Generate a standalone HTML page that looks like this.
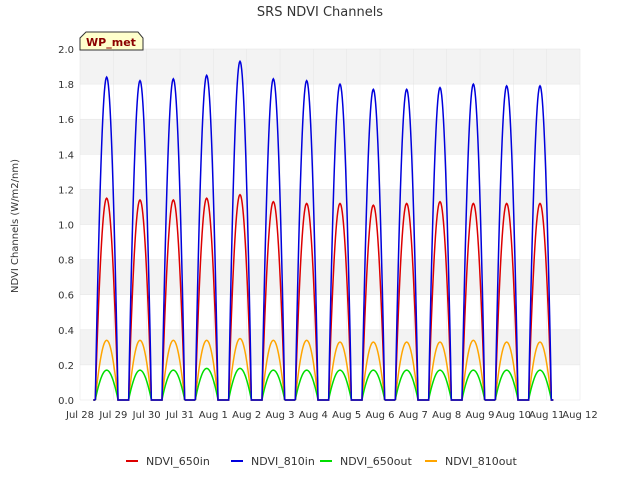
<!DOCTYPE html>
<html><head><meta charset="utf-8"><style>
body{margin:0;background:#fff;font-family:"Liberation Sans",sans-serif}
svg text{font-family:"DejaVu Sans","Liberation Sans",sans-serif}
</style></head><body>
<svg id="chart" width="640" height="480" xmlns="http://www.w3.org/2000/svg">
<rect width="640" height="480" fill="#fff"/>
<text x="320" y="16" text-anchor="middle" font-size="13" fill="#333">SRS NDVI Channels</text>
<g id="bands"></g>
<g id="grid"></g>
<g id="series"></g>
<g id="axes"></g>
<text transform="translate(18,226) rotate(-90)" text-anchor="middle" font-size="10" fill="#333">NDVI Channels (W/m2/nm)</text>
<g>
<path d="M80,50 L80,38 L86,32 L138,32 L143,38 L143,50 Z" fill="#ffffcc" stroke="#333"/>
<text x="111" y="46" text-anchor="middle" font-size="11" font-weight="bold" fill="#8b0000">WP_met</text>
</g>
<g id="legend"></g>
</svg>
<script>
const xTicks=["Jul 28","Jul 29","Jul 30","Jul 31","Aug 1","Aug 2","Aug 3","Aug 4","Aug 5","Aug 6","Aug 7","Aug 8","Aug 9","Aug 10","Aug 11","Aug 12"];
const yTicks=[0,0.2,0.4,0.6,0.8,1.0,1.2,1.4,1.6,1.8,2.0];
const seriesNames=["NDVI_650in","NDVI_810in","NDVI_650out","NDVI_810out"];
const peaks650in=[1.15,1.14,1.14,1.15,1.17,1.13,1.12,1.12,1.11,1.12,1.13,1.12,1.12,1.12];
const peaks810in=[1.84,1.82,1.83,1.85,1.93,1.83,1.82,1.80,1.77,1.77,1.78,1.80,1.79,1.79];
const peaks650out=[0.17,0.17,0.17,0.18,0.18,0.17,0.17,0.17,0.17,0.17,0.17,0.17,0.17,0.17];
const peaks810out=[0.34,0.34,0.34,0.34,0.35,0.34,0.34,0.33,0.33,0.33,0.33,0.34,0.33,0.33];
const colors=["#dd0000","#0000dd","#00dd00","#ffa500"];
const X0=80,X1=580,Y0=400,Y1=49;
const xs=d=>X0+(X1-X0)*d/15;
const ys=v=>Y0-(Y0-Y1)*v/2;
const NS="http://www.w3.org/2000/svg";
function mk(t,a,p){const e=document.createElementNS(NS,t);for(const k in a)e.setAttribute(k,a[k]);p.appendChild(e);return e;}
const bands=document.getElementById('bands'),grid=document.getElementById('grid'),axes=document.getElementById('axes');
mk('rect',{x:X0,y:Y1,width:X1-X0,height:Y0-Y1,fill:'#fff'},bands);
for(let i=1;i<yTicks.length;i+=2){
 const top=yTicks[i+1]!==undefined?yTicks[i+1]:2;
 const r=mk('rect',{x:X0,y:ys(top),width:X1-X0,height:ys(yTicks[i])-ys(top),fill:'#f3f3f3'},bands);
 
 
}
yTicks.forEach(v=>{
 mk('line',{x1:X0,x2:X1,y1:ys(v),y2:ys(v),stroke:'#e4e4e4','stroke-width':0.5},grid);
 const t=mk('text',{x:X0-6,y:ys(v)+4,'text-anchor':'end','font-size':10,fill:'#333'},axes);
 t.textContent=v.toFixed(1);
 
 
});
xTicks.forEach((s,i)=>{
 mk('line',{x1:xs(i),x2:xs(i),y1:Y1,y2:Y0,stroke:'#e4e4e4','stroke-width':0.5},grid);
 const t=mk('text',{x:xs(i),y:Y0+18,'text-anchor':'middle','font-size':10,fill:'#333'},axes);
 t.textContent=s;
 
 
});
const ser=document.getElementById('series');
const all=[peaks650in,peaks810in,peaks650out,peaks810out];
[3,2,0,1].forEach(si=>{
 const pk=all[si];let d='M'+xs(0.4)+','+ys(0);
 pk.forEach((p,day)=>{
  const c=day+0.8,w=0.34;
  d+=' L'+xs(c-w)+','+ys(0);
  for(let k=0;k<=40;k++){const u=k/40;const t=c-w+2*w*u;const s=Math.pow(Math.sin(Math.PI*u),0.9);d+=' L'+xs(t).toFixed(2)+','+ys(p*s).toFixed(2);}
  d+=' L'+xs(c+w)+','+ys(0);
 });
 d+=' L'+xs(14.2)+','+ys(0);
 const path=mk('path',{d:d,fill:'none',stroke:colors[si],'stroke-width':1.5},ser);
 
 
});
const lg=document.getElementById('legend');
const lx=[126,231,320,425];
seriesNames.forEach((n,i)=>{
 const g=mk('g',{},lg);
 
 
 mk('line',{x1:lx[i],x2:lx[i]+12,y1:461,y2:461,stroke:colors[i],'stroke-width':2},g);
 const t=mk('text',{x:lx[i]+20,y:465,'font-size':11,fill:'#333'},g);
 t.textContent=n;
});
</script>
</body></html>
